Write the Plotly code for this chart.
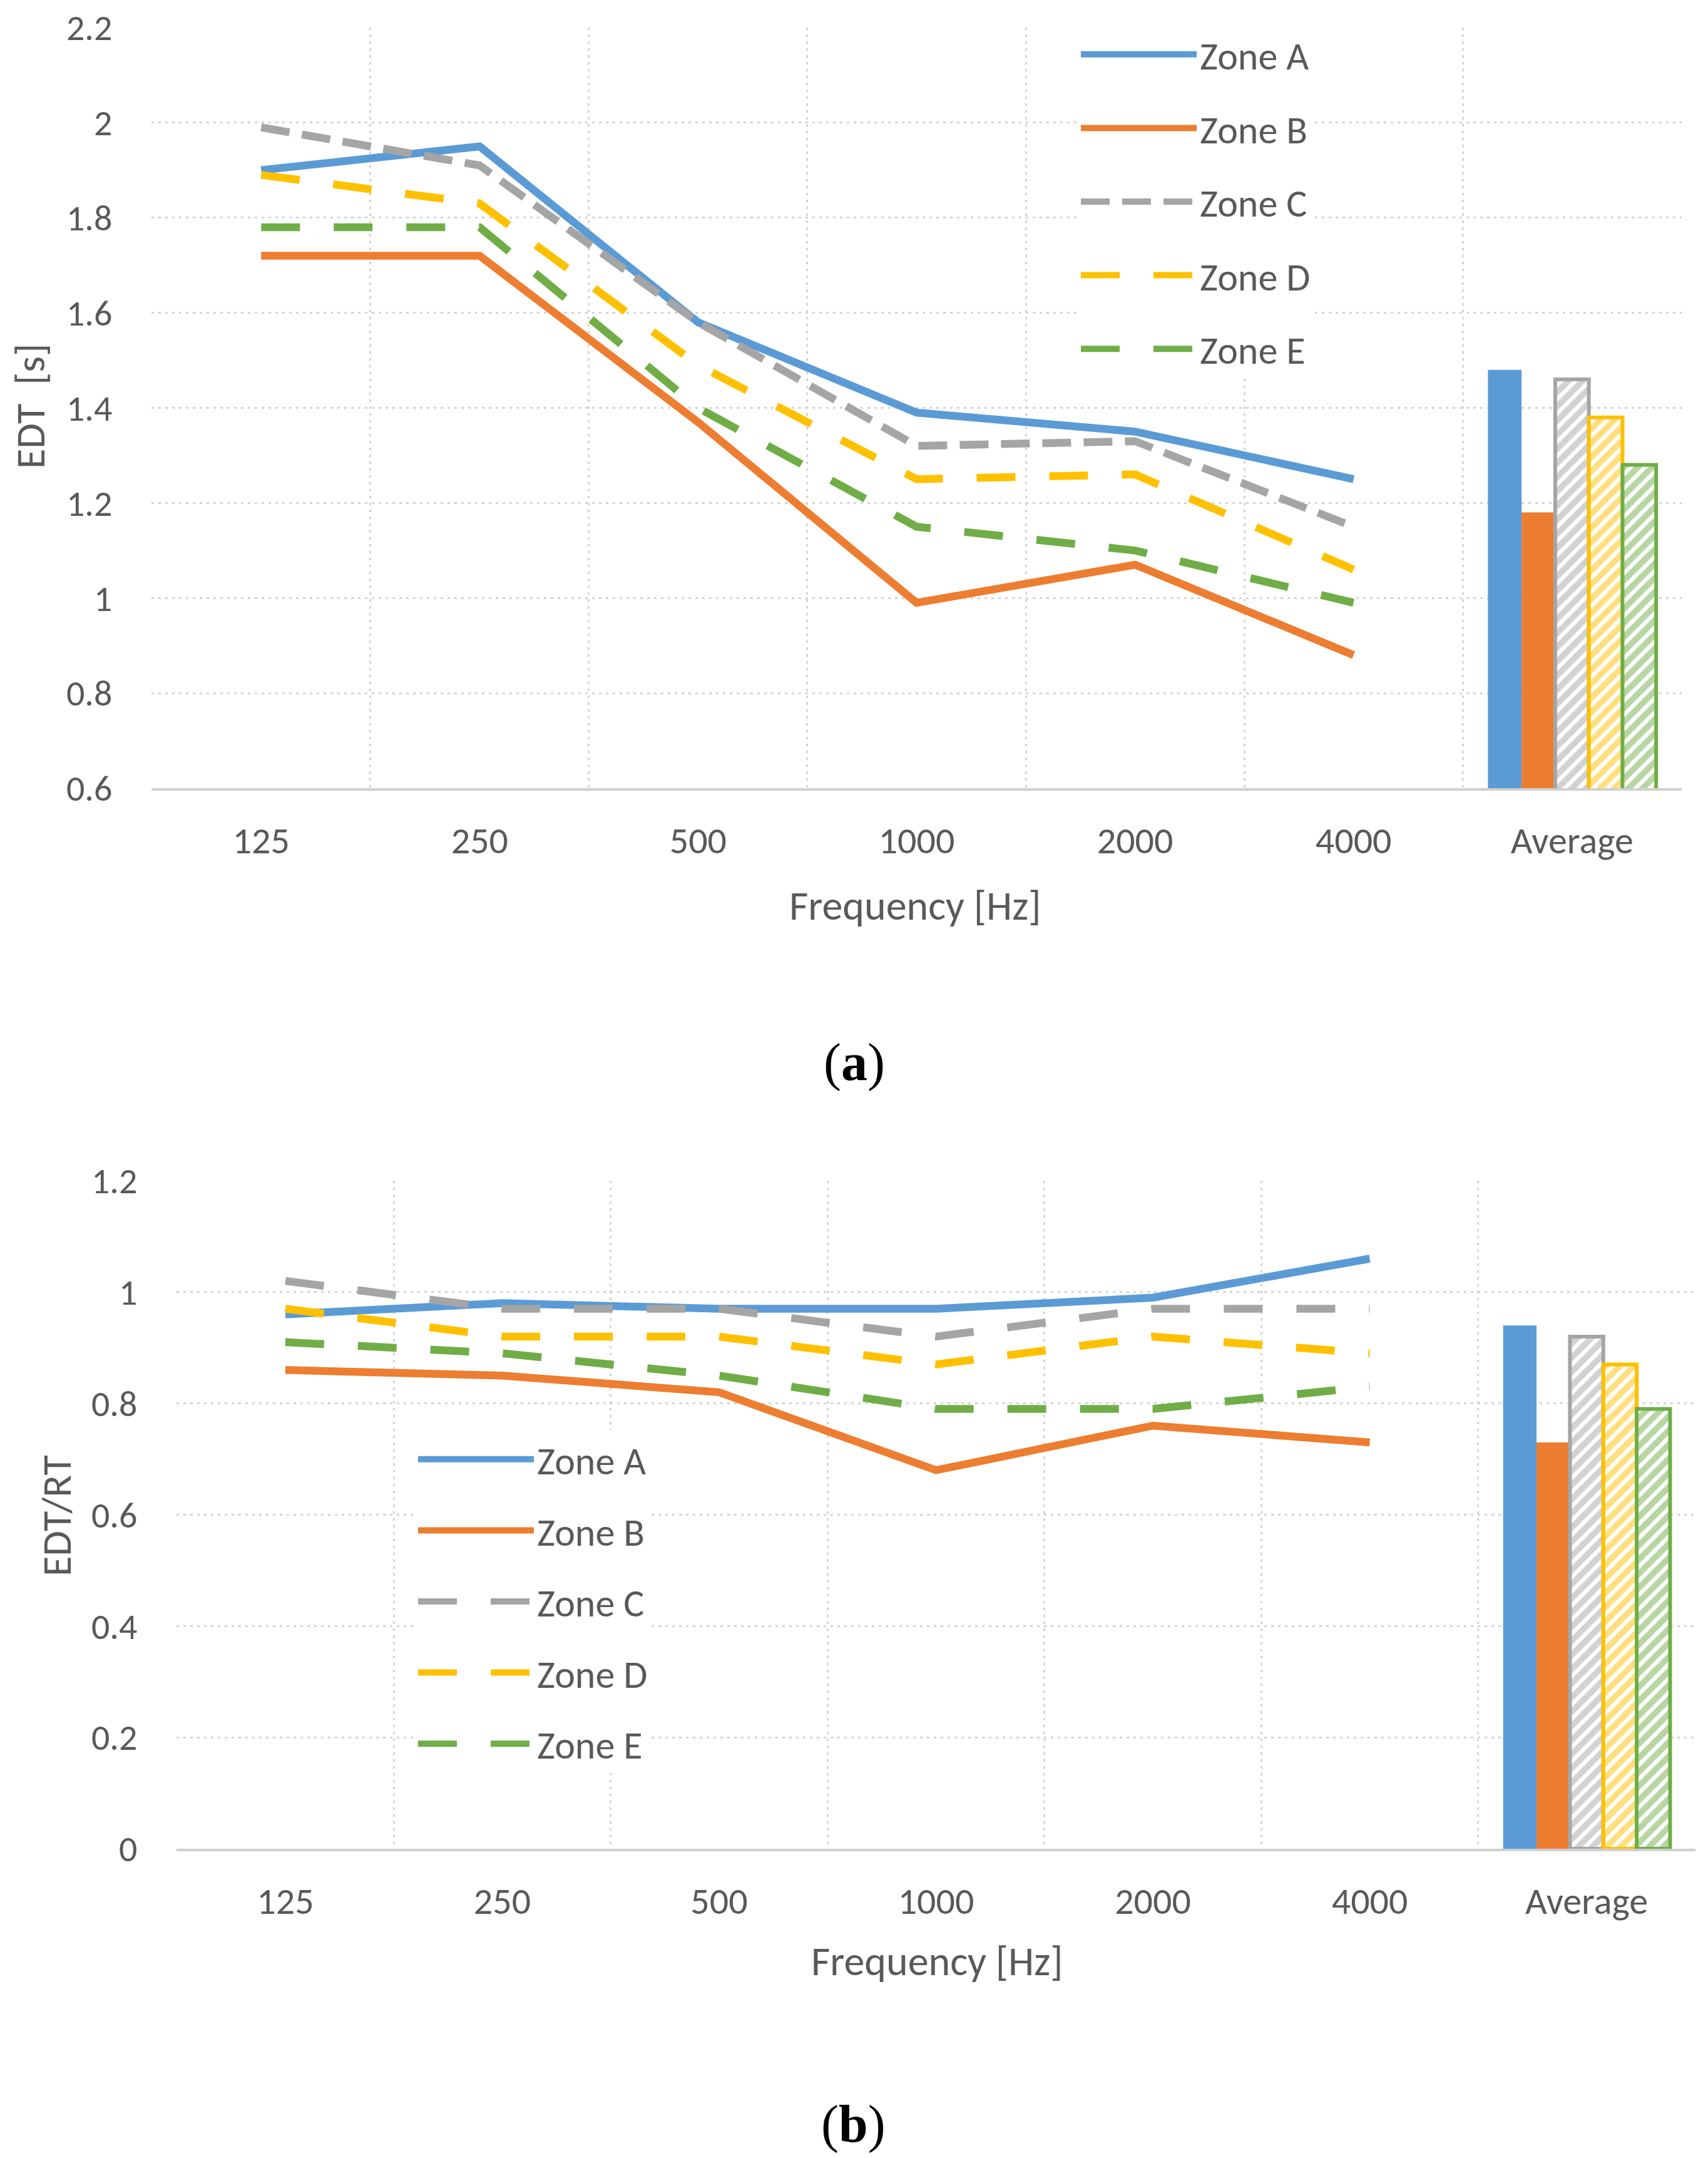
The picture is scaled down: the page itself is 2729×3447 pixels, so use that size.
import plotly.graph_objects as go

# ---------------- data ----------------
categories = ["125", "250", "500", "1000", "2000", "4000", "Average"]
zones = ["Zone A", "Zone B", "Zone C", "Zone D", "Zone E"]

# (a) EDT [s]
edt_a = [1.90, 1.95, 1.58, 1.39, 1.35, 1.25]
edt_b = [1.72, 1.72, 1.37, 0.99, 1.07, 0.88]
edt_c = [1.99, 1.91, 1.58, 1.32, 1.33, 1.15]
edt_d = [1.89, 1.83, 1.49, 1.25, 1.26, 1.06]
edt_e = [1.78, 1.78, 1.40, 1.15, 1.10, 0.99]
edt_avg = [1.48, 1.18, 1.46, 1.38, 1.28]

# (b) EDT/RT
ratio_a = [0.96, 0.98, 0.97, 0.97, 0.99, 1.06]
ratio_b = [0.86, 0.85, 0.82, 0.68, 0.76, 0.73]
ratio_c = [1.02, 0.97, 0.97, 0.92, 0.97, 0.97]
ratio_d = [0.97, 0.92, 0.92, 0.87, 0.92, 0.89]
ratio_e = [0.91, 0.89, 0.85, 0.79, 0.79, 0.83]
ratio_avg = [0.94, 0.73, 0.92, 0.87, 0.79]

edt_ticks = [0.6, 0.8, 1.0, 1.2, 1.4, 1.6, 1.8, 2.0, 2.2]
ratio_ticks = [0, 0.2, 0.4, 0.6, 0.8, 1.0, 1.2]

# ---------------- style ----------------
colors = ["#5B9BD5", "#ED7D31", "#A5A5A5", "#FFC000", "#70AD47"]
dash_top = ["solid", "solid", "46px,20px", "62px,54px", "62px,54px"]
dash_bot = ["solid", "solid", "62px,54px", "62px,54px", "62px,54px"]
hatched = [False, False, True, True, True]
LW = 12.5
TXT = "#595959"
FONT = "Carlito, Lato, sans-serif"
GRID = "#D4D4D4"

W, H = 2729, 3447
OFF = 8  # page body margin


def px(X):
    return (X - OFF) / W


def py(Y):
    return 1 - (Y - OFF) / H


xpos_lines = list(range(len(categories) - 1))
xpos_avg = [len(categories) - 1]

fig = go.Figure()


def add_panel(series, avg, dashes, xa, ya, legend):
    for i, z in enumerate(zones):
        fig.add_trace(go.Scatter(
            x=xpos_lines, y=series[i], mode="lines", name=z,
            line=dict(color=colors[i], width=LW, dash=dashes[i]),
            xaxis=xa, yaxis=ya, legend=legend, legendgroup=legend + z,
        ))
    for i, z in enumerate(zones):
        if hatched[i]:
            marker = dict(color="white",
                          line=dict(color=colors[i], width=6),
                          pattern=dict(shape="/", fgcolor=colors[i],
                                       bgcolor="white", size=16,
                                       solidity=0.6))
        else:
            marker = dict(color=colors[i], line=dict(width=0))
        fig.add_trace(go.Bar(
            x=xpos_avg, y=[avg[i]], name=z, marker=marker,
            showlegend=False, xaxis=xa, yaxis=ya, offsetgroup=str(i),
        ))


add_panel([edt_a, edt_b, edt_c, edt_d, edt_e], edt_avg, dash_top, "x", "y", "legend")
add_panel([ratio_a, ratio_b, ratio_c, ratio_d, ratio_e], ratio_avg, dash_bot, "x2", "y2", "legend2")

bounds = [i - 0.5 for i in range(len(categories) + 1)]


def xaxis(domain, anchor):
    return dict(
        domain=domain, anchor=anchor, range=[-0.502, len(categories) - 0.498],
        automargin=False, ticklabeloverflow="allow",
        tickmode="array", tickvals=list(range(len(categories))), ticktext=categories,
        showgrid=False, zeroline=False,
        showline=True, linecolor="#D0D0D0", linewidth=4,
        ticks="outside", ticklen=28, tickcolor="rgba(0,0,0,0)",
        tickfont=dict(family=FONT, size=60, color=TXT),
        minor=dict(tickmode="array", tickvals=bounds, showgrid=True,
                   gridcolor=GRID, gridwidth=3, griddash="4px,7px", ticks=""),
    )


def yaxis(domain, anchor, rng, ticks):
    return dict(
        domain=domain, anchor=anchor, range=rng,
        tickmode="array", tickvals=ticks,
        automargin=False, ticklabeloverflow="allow",
        showgrid=True, gridcolor=GRID, gridwidth=3, griddash="4px,7px",
        zeroline=False, showline=False,
        ticks="outside", ticklen=50, tickcolor="rgba(0,0,0,0)",
        tickfont=dict(family=FONT, size=58, color=TXT),
    )


fig.update_layout(
    width=W, height=H,
    margin=dict(l=0, r=0, t=0, b=0, autoexpand=False),
    paper_bgcolor="white", plot_bgcolor="white",
    barmode="group", bargap=0.23, bargroupgap=0,
    xaxis=xaxis([px(242), px(2687)], "y"),
    yaxis=yaxis([py(1259), py(44)], "x", [0.6, 2.2], edt_ticks),
    xaxis2=xaxis([px(282), px(2709)], "y2"),
    yaxis2=yaxis([py(2953), py(1886)], "x2", [0, 1.2], ratio_ticks),
    legend=dict(x=px(1722), xanchor="left", y=py(40), yanchor="top",
                bgcolor="white", borderwidth=0, itemwidth=185,
                tracegroupgap=34, font=dict(family=FONT, size=62, color=TXT)),
    legend2=dict(x=px(663), xanchor="left", y=py(2284), yanchor="top",
                 bgcolor="white", borderwidth=0, itemwidth=185,
                 tracegroupgap=30, font=dict(family=FONT, size=62, color=TXT)),
    showlegend=True,
)

ann_font = dict(family=FONT, size=66, color=TXT)
fig.add_annotation(text="Frequency [Hz]", x=px(1463), y=py(1446), xref="paper", yref="paper",
                   showarrow=False, font=ann_font, xanchor="center", yanchor="middle")
fig.add_annotation(text="EDT\u00a0\u00a0[s]", x=px(48), y=py(649), xref="paper", yref="paper",
                   showarrow=False, font=ann_font, textangle=-90, xanchor="center", yanchor="middle")
fig.add_annotation(text="Frequency [Hz]", x=px(1497), y=py(3132), xref="paper", yref="paper",
                   showarrow=False, font=ann_font, xanchor="center", yanchor="middle")
fig.add_annotation(text="EDT/RT", x=px(90), y=py(2421), xref="paper", yref="paper",
                   showarrow=False, font=ann_font, textangle=-90, xanchor="center", yanchor="middle")
cap_font = dict(family="Liberation Serif, Times New Roman, serif", size=84, color="black")
fig.add_annotation(text="(<b>a</b>)", x=px(1365), y=py(1697), xref="paper", yref="paper",
                   showarrow=False, font=cap_font, xanchor="center", yanchor="middle")
fig.add_annotation(text="(<b>b</b>)", x=px(1363), y=py(3393), xref="paper", yref="paper",
                   showarrow=False, font=cap_font, xanchor="center", yanchor="middle")

fig.write_html("out.html")
